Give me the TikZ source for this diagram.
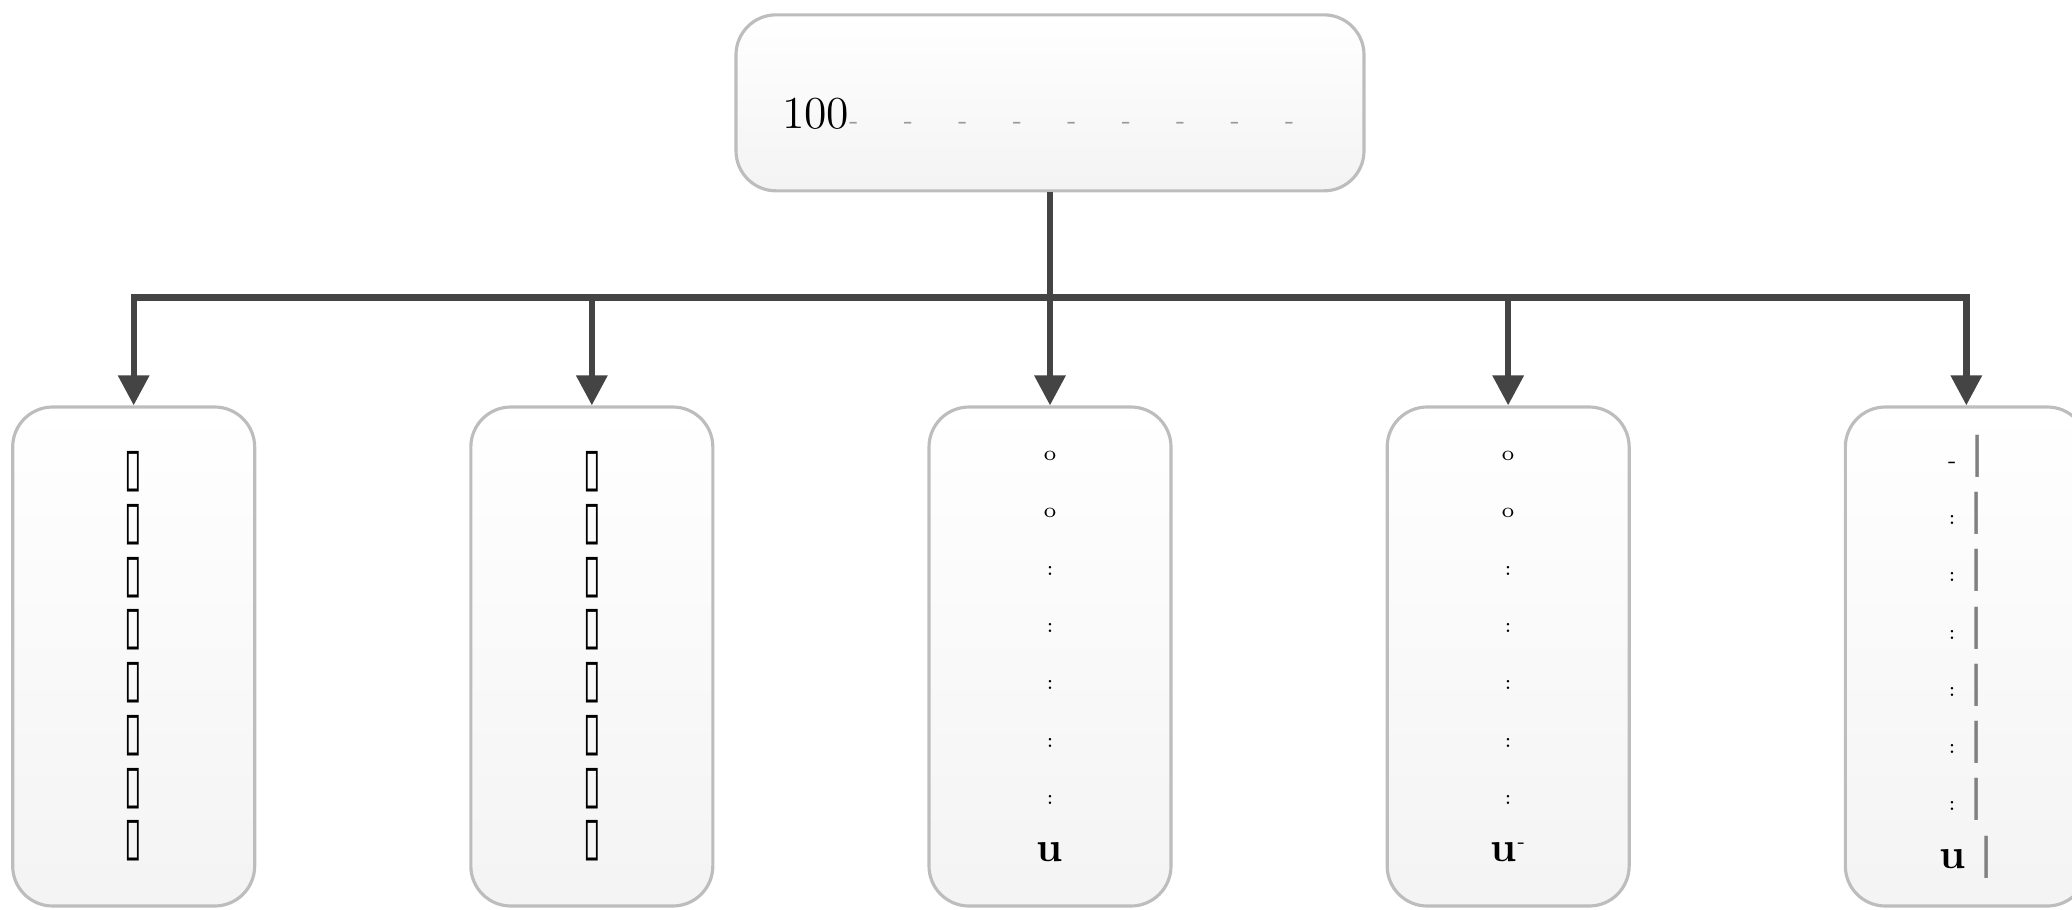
\documentclass[tikz,border=0pt]{standalone}
\usepackage{fontspec}
\usepackage{graphicx}
\usepackage{xcolor}
\usepackage{tikz}
\newfontfamily\glyphfont{DejaVu Sans}
\usetikzlibrary{positioning}
\usetikzlibrary{arrows.meta}
\definecolor{linegray}{HTML}{444444}
\definecolor{boxedge}{HTML}{BDBDBD}
\newcommand{\dashgap}{\hspace{0.45cm}-}
\newcommand{\tofu}{\scalebox{0.65}[1.08]{▯}}
\newcommand{\barrow}[1]{#1\hspace{4pt}\textcolor{gray}{\glyphfont\fontsize{12}{12}\selectfont|}}

\begin{document}
\begin{tikzpicture}[
    node distance = 2.13cm and 2.13cm,% gap between the boxes
       box/.style = {draw=boxedge, line width=0.9pt, rounded corners=0.4cm,
                     top color=white, bottom color=gray!9},% rounded boxes
      leaf/.style = {box, minimum width=2.42cm, minimum height=4.99cm,
                     inner sep=0pt, align=center},% lower boxes
      conn/.style = {draw=linegray, line width=1.8pt,
                     -{Triangle[width=3mm,length=3mm]}}% connectors
    ]
    \useasboundingbox (0,0) rectangle (20.72,-9.09);
    \node (kc) [leaf, font=\fontsize{6}{16.3}\selectfont] at (10.50,-6.565)
        {o\\o\\:\\:\\:\\:\\:\\\textbf{\large u}};
    \node (head) [box, above=of kc, minimum width=6.28cm, minimum height=1.76cm,
        text width=5.36cm, inner xsep=0.46cm, text height=0.52cm, text depth=0cm,
        align=left]
        {\fontsize{13}{13}\selectfont 100{\color{gray!80}\scriptsize
         -\dashgap\dashgap\dashgap\dashgap\dashgap\dashgap\dashgap\dashgap}};
    \node (kb) [leaf, left=of kc, font=\glyphfont\fontsize{14}{15}\selectfont]
        {\tofu\\\tofu\\\tofu\\\tofu\\\tofu\\\tofu\\\tofu\\\tofu};
    \node (ka) [leaf, left=of kb, font=\glyphfont\fontsize{14}{15}\selectfont]
        {\tofu\\\tofu\\\tofu\\\tofu\\\tofu\\\tofu\\\tofu\\\tofu};
    \node (kd) [leaf, right=of kc, font=\fontsize{6}{16.3}\selectfont]
        {o\\o\\:\\:\\:\\:\\:\\\textbf{\large u}\raisebox{4pt}{\tiny -}};
    \node (ke) [leaf, right=of kd, font=\fontsize{6}{16.3}\selectfont]
        {\barrow{-}\\\barrow{:}\\\barrow{:}\\\barrow{:}\\\barrow{:}\\\barrow{:}\\\barrow{:}\\\barrow{\textbf{\large u}}};
    \coordinate (fork) at ([yshift=-1.05cm]head.south);
    \foreach \leafname in {ka,kb,kc,kd,ke}
        \draw[conn] (head.south) -- (fork) -| (\leafname.north);
\end{tikzpicture}
\end{document}
